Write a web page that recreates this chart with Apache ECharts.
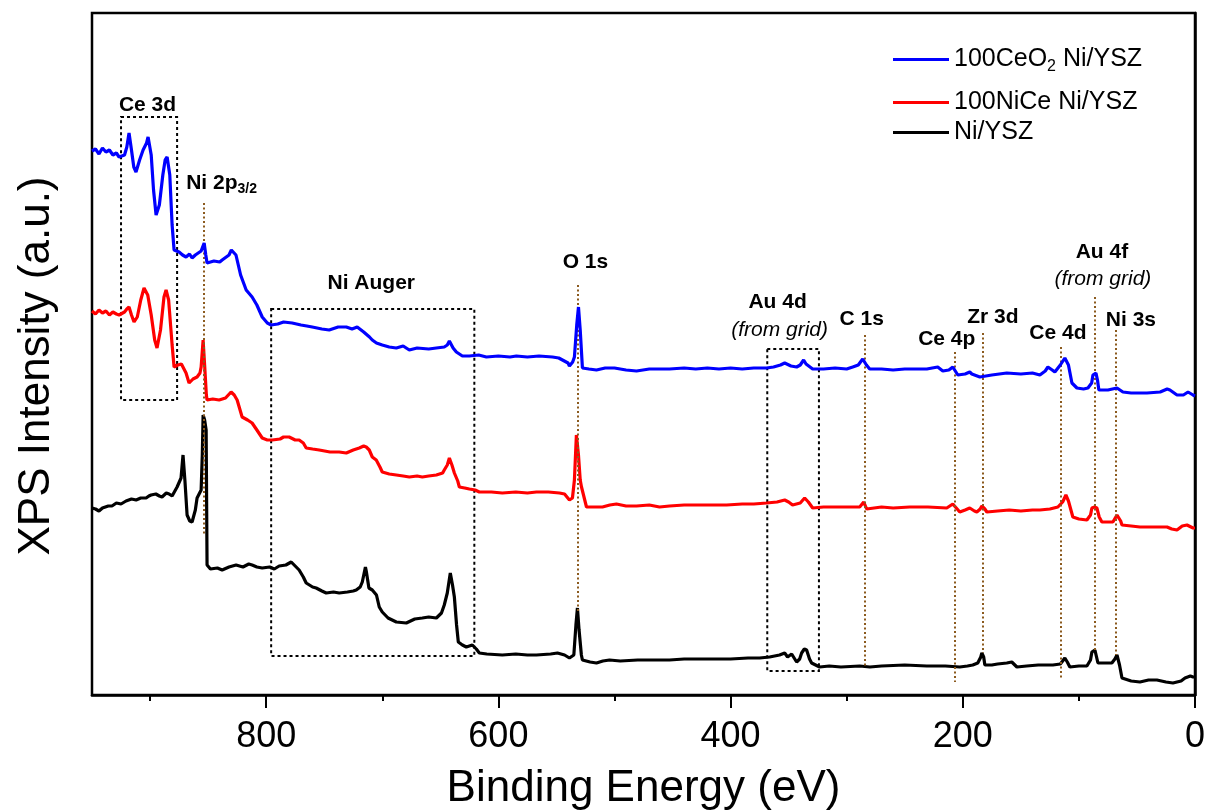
<!DOCTYPE html>
<html>
<head>
<meta charset="utf-8">
<script src="https://cdn.jsdelivr.net/npm/echarts@6/dist/echarts.min.js"></script>
<style>
html,body{margin:0;padding:0;background:#fff;}
#chart{width:1207px;height:811px;}
</style>
</head>
<body>
<div id="chart"></div>
<script>
// ---------- DATA (binding energy in eV, intensity in arbitrary units) ----------
const seriesNames = ['100CeO2 Ni/YSZ', '100NiCe Ni/YSZ', 'Ni/YSZ'];
const xMajorTicks = [0, 200, 400, 600, 800];
const xMinorTicks = [100, 300, 500, 700, 900];

const blueData = [[950,544],[947,546],[944,541],[941,547],[938,543],[935,545],[932,540],[929,542],[926.7,538],[922,540],[920,548],[918.1,562],[916,545],[914,528],[912.1,523],[909,535],[906,545],[903,552],[901.7,558],[899,540],[897,505],[894.8,480],[892,490],[889,520],[887,535],[885.3,538],[883,520],[881,470],[879.3,445],[875,443],[872,440],[869,438],[866,441],[863.8,437],[861,440],[859.5,442],[856,444],[853.4,452],[852,440],[850.9,432],[845,434],[840,433],[837.9,435],[832,440],[830,445],[828.4,447],[826,440],[822,420],[817.2,405],[812.1,398],[808,390],[803.4,378],[799,372],[795.7,370],[790,371],[785,373],[777.6,372],[770,370],[765,369],[760.3,368],[752,366],[745.7,365],[738,368],[731,368],[726,366],[721.6,368],[716,363],[711,358],[708.6,355],[705,352],[700,350],[694,348],[687.9,347],[682,349],[676.7,345],[670,347],[660,346],[653.4,347],[646.6,348],[644,350],[642.2,354],[639,347],[636.2,343],[631,339],[625,339],[617,340],[610.3,338],[600,339],[590,338],[584.5,339],[575,338],[565,339],[553.4,338],[548,337],[544.8,335],[540,332],[538.8,329],[536,333],[534.5,338],[532.5,370],[531,388],[529.5,365],[527.6,327],[522,326],[515.5,325],[508,327],[500,327],[490,325],[481,324],[470,326],[461.2,326],[452.6,326],[440,327],[430,326],[420,327],[410,326],[400,327],[390,326],[380,327],[369,327],[363,328],[357,330],[353.4,332],[348,329],[343.1,328],[340,330],[337.1,335],[335,331],[329.3,326],[320,326],[310,327],[300,326],[294.8,328],[290,330],[286.2,336],[283,330],[280.2,326],[270,326],[260,325],[250,326],[240,326],[231,326],[221.6,328],[217.2,324],[212,325],[208.6,328],[204.3,320],[198,321],[194,323],[192.2,321],[185.3,318],[175,320],[162.1,322],[150,321],[140,322],[133.6,320],[129,324],[126.7,328],[123,325],[120.7,323],[116,330],[112.1,337],[109,330],[106,312],[101.7,307],[96,306],[92.2,307],[89,312],[87.9,320],[85.3,322],[84,315],[82.8,305],[75,305],[67.2,307],[62.1,303],[55,302],[41.4,302],[30,303],[24,306],[21.6,305],[15.5,300],[10,300],[6,303],[1.7,300],[0,299]];

const redData = [[950,384],[947,381],[944,385],[941,382],[938,384],[935,380],[932,383],[929,381],[926.7,380],[922,383],[920,386],[918.1,388],[916,380],[913.8,373],[911,378],[908,395],[905.2,407],[902,400],[899,380],[896,355],[894,347],[891,365],[888,398],[886.2,405],[884,395],[881,350],[879.3,328],[876,330],[873,331],[871.6,332],[869,322],[866.4,312],[863,316],[859.5,318],[857,322],[856,328],[854.3,355],[853,330],[851.5,300],[850.9,295],[846,296],[840.5,295],[835,297],[830.2,303],[827.5,300],[825,295],[820.7,278],[816,275],[812.1,272],[808,265],[803.4,257],[799,255],[794.8,255],[788,256],[785,258],[780.2,258],[775,255],[771.6,255],[768,252],[765.5,247],[760,246],[754.3,245],[745,243],[737.1,243],[731,242],[725,245],[719.8,247],[716,249],[713.8,248],[711.2,245],[708.6,238],[705.2,235],[702,228],[700,223],[694,221],[687.9,220],[682,219],[676.7,218],[670,219],[665.5,218],[660,219],[653.4,220],[648,222],[646.6,225],[644,230],[642.2,237],[640,230],[637.9,222],[635,214],[633.6,208],[629,207],[625,206],[620,205],[616.4,203],[606,203],[596.6,202],[585,203],[575,202],[567.2,203],[557,203],[547.4,202],[543,201],[538.8,195],[536.2,197],[534.5,215],[532.8,260],[531,240],[529.5,215],[528.4,208],[524.1,188],[517,188],[510.3,188],[504,190],[498.3,191],[490,189],[481,189],[470,190],[461.2,188],[452.6,189],[440,190],[425,190],[403.4,190],[390,191],[380,191],[369,192],[360,193],[353.4,195],[350,193],[346.6,190],[340,192],[336.2,197],[333,193],[329.3,187],[320,188],[300,188],[288.8,188],[285.3,193],[282.8,186],[270,188],[260,187],[245.7,188],[230,188],[213.8,187],[208.6,191],[202.6,183],[198,185],[194,187],[190,184],[187.9,183],[185,186],[183.6,189],[181,186],[179.3,183],[170,184],[160,185],[150,184],[140,185],[133.6,185],[125,186],[118.1,188],[114,193],[111.2,200],[109,194],[105.2,178],[100,176],[93.1,175],[90,180],[88.8,187],[86.5,188],[84.5,187],[82.5,178],[80.2,173],[75,173],[70.7,173],[67.2,180],[64,174],[62.9,170],[55,169],[47.4,168],[35,168],[24.1,168],[20,166],[15.5,165],[11,169],[6.9,170],[1.7,167],[0,167]];

const blackData = [[950,187],[947,186],[944,184],[941,187],[939.7,185],[936,189],[932.8,189],[929,192],[925,191],[920.7,194],[916,196],[912,195],[908,197],[903.4,197],[901,199],[899.1,200],[895,201],[892,199],[889.7,198],[886,202],[883.6,201],[881,199],[879.3,198],[876.7,208],[873.3,217],[871.6,240],[870,215],[868.1,180],[865.8,174],[863.8,173],[861,185],[859.5,197],[856,205],[855,240],[854.3,280],[853,275],[851.7,265],[850.9,130],[848,126],[846.6,125],[842,127],[837.9,125],[832,128],[825.9,130],[820,128],[815,131],[812.1,130],[808,128],[803.4,127],[797,128],[793,126],[788.8,129],[783,130],[778.4,133],[775,129],[771.6,125],[768,118],[765.5,112],[760,108],[756.9,107],[752,104],[748.3,102],[742,103],[737.1,102],[730,103],[725,104],[722.4,105],[719,108],[717.2,113],[714.5,128],[713.8,124],[711.5,107],[708.6,105],[705,100],[702.6,88],[700,83],[695,77],[687.9,73],[679.3,72],[672,76],[665.5,77],[660,78],[653.4,77],[649,82],[646.6,90],[644,102],[641.4,122],[639.5,110],[637.9,98],[636,70],[634.5,53],[631,50],[627.6,48],[622.4,50],[619,46],[616.4,42],[610,41],[596.6,40],[585,41],[575,40],[567.2,40],[555,41],[549.1,42],[543,40],[538.8,37],[535,40],[533.2,70],[531.9,87],[530.5,65],[528.5,40],[527.6,35],[521,33],[515.5,32],[510,34],[504.3,35],[495,34],[480,35],[465,35],[452.6,35],[440,36],[420,36],[400,36],[385,37],[375,37],[366.4,38],[357.8,40],[353.4,42],[350.9,38],[347.4,41],[343.1,33],[340.5,36],[338.8,42],[336.5,46],[334.5,45],[332,36],[330.2,32],[323.3,28],[315,29],[305,28],[288.8,29],[280,28],[270,29],[250,30],[231,29],[215,29],[202.6,28],[196,29],[191.4,30],[187.1,32],[184.5,38],[183.6,42],[182,38],[181,30],[175,30],[170,31],[162.1,32],[157.8,33],[153.4,28],[145,29],[135,30],[122.4,30],[116,31],[114,34],[112.1,37],[110,33],[107.8,28],[100,29],[93.1,29],[90,35],[88.8,43],[86.2,45],[84.5,43],[83.6,32],[78,32],[71.6,32],[69,36],[67.2,40],[65,30],[62.9,17],[55,14],[47.4,13],[40,15],[32.8,15],[25,13],[19,12],[12,14],[8.6,17],[4,19],[1.7,18],[0,18]];

// peak marker lines: [binding energy, upper intensity, lower intensity]
const peakLines = [[853.4,492,160],[532,410,82],[284.5,360,28],[207.2,343,13],[183.0,362,42],[115.8,348,17],[86.2,398,45],[68.1,365,40]];
// dotted boxes: [BE from, BE to, upper intensity, lower intensity]
const regionBoxes = [[925,876.7,578,295],[795.7,620.7,386,39],[368.4,323.9,346,24]];
// annotation texts: [BE, intensity, text, kind]
const peakLabels = [
  [902.2,590,'Ce 3d','b'],
  [838.4,512,'Ni 2p|3/2','sub'],
  [709.5,412,'Ni Auger','b'],
  [525,433,'O 1s','b'],
  [359.5,393,'Au 4d','b'],
  [357.8,365,'(from grid)','i'],
  [287.1,376,'C 1s','b'],
  [213.8,356,'Ce 4p','b'],
  [174.1,378,'Zr 3d','b'],
  [118.1,362,'Ce 4d','b'],
  [80.2,443,'Au 4f','b'],
  [79.3,416,'(from grid)','i'],
  [55.2,375,'Ni 3s','b']
];

// ---------- CHART ----------
const FONT = '"Liberation Sans", Arial, Helvetica, sans-serif';
const chart = echarts.init(document.getElementById('chart'), null, {renderer: 'canvas'});

const labelItems = peakLabels.map(function (p) {
  let fmt;
  if (p[3] === 'sub') {
    const parts = p[2].split('|');
    fmt = '{b|' + parts[0] + '}{s|' + parts[1] + '}';
  } else if (p[3] === 'i') {
    fmt = '{i|' + p[2] + '}';
  } else {
    fmt = '{b|' + p[2] + '}';
  }
  return { value: [p[0], p[1]], label: { formatter: fmt } };
});

const lineStyleBase = { width: 3.2 };

const option = {
  animation: false,
  backgroundColor: '#fff',
  textStyle: { fontFamily: FONT },
  grid: {
    left: 92, right: 12, top: 13, bottom: 116,
    outerBoundsMode: 'none', containLabel: false,
    show: true, borderColor: '#000', borderWidth: 2.5, backgroundColor: 'transparent'
  },
  legend: [
    {
      data: [seriesNames[0]], left: 888, top: 42, icon: 'rect', itemWidth: 56, itemHeight: 3,
      itemGap: 0, selectedMode: false,
      formatter: function () { return '{a|100CeO}{s|2}{a| Ni/YSZ}'; },
      textStyle: { fontFamily: FONT, color: '#000', fontSize: 25,
        rich: { a: { fontFamily: FONT, fontSize: 25, color: '#000', lineHeight: 30 },
                s: { fontFamily: FONT, fontSize: 16, color: '#000', verticalAlign: 'bottom', lineHeight: 16 } } }
    },
    {
      data: [seriesNames[1]], left: 888, top: 85, icon: 'rect', itemWidth: 56, itemHeight: 3,
      selectedMode: false,
      textStyle: { fontFamily: FONT, color: '#000', fontSize: 25 }
    },
    {
      data: [seriesNames[2]], left: 888, top: 115, icon: 'rect', itemWidth: 56, itemHeight: 3,
      selectedMode: false,
      textStyle: { fontFamily: FONT, color: '#000', fontSize: 25 }
    }
  ],
  xAxis: [
    {
      type: 'value', inverse: true, min: 0, max: 950,
      name: 'Binding Energy (eV)', nameLocation: 'middle', nameGap: 72,
      nameTextStyle: { fontFamily: FONT, fontSize: 44, color: '#000' },
      axisLine: { show: true, onZero: false, lineStyle: { color: '#000', width: 2.5 } },
      axisTick: { show: true, inside: false, length: 13, customValues: xMajorTicks, lineStyle: { color: '#000', width: 2 } },
      axisLabel: { show: true, customValues: xMajorTicks, fontFamily: FONT, fontSize: 36, color: '#000', margin: 24 },
      splitLine: { show: false }
    },
    {
      type: 'value', inverse: true, min: 0, max: 950, position: 'bottom',
      axisLine: { show: false, onZero: false },
      axisTick: { show: true, inside: false, length: 6, customValues: xMinorTicks, lineStyle: { color: '#000', width: 2 } },
      axisLabel: { show: false },
      splitLine: { show: false }
    }
  ],
  yAxis: {
    type: 'value', min: 0, max: 682,
    name: 'XPS Intensity (a.u.)', nameLocation: 'middle', nameGap: 33,
    nameTextStyle: { fontFamily: FONT, fontSize: 44, color: '#000', padding: [0, 24, 0, 0] },
    axisLine: { show: true, lineStyle: { color: '#000', width: 2.5 } },
    axisTick: { show: false },
    axisLabel: { show: false },
    splitLine: { show: false }
  },
  series: [
    {
      name: seriesNames[2], type: 'line', data: blackData, showSymbol: false, symbol: 'none',
      color: '#000', lineStyle: Object.assign({ color: '#000' }, lineStyleBase), silent: true, z: 3,
      markLine: {
        silent: true, symbol: ['none', 'none'], label: { show: false },
        lineStyle: { color: '#8B5A1E', type: [2, 2.5], width: 2, opacity: 1 },
        data: peakLines.map(function (l) { return [{ coord: [l[0], l[1]] }, { coord: [l[0], l[2]] }]; })
      },
      markArea: {
        silent: true, label: { show: false },
        itemStyle: { color: 'rgba(0,0,0,0)', borderColor: '#000', borderWidth: 2, borderType: [3, 3], opacity: 1 },
        data: regionBoxes.map(function (b) { return [{ coord: [b[0], b[2]] }, { coord: [b[1], b[3]] }]; })
      }
    },
    {
      name: seriesNames[1], type: 'line', data: redData, showSymbol: false, symbol: 'none',
      color: '#FF0000', lineStyle: Object.assign({ color: '#FF0000' }, lineStyleBase), silent: true, z: 4
    },
    {
      name: seriesNames[0], type: 'line', data: blueData, showSymbol: false, symbol: 'none',
      color: '#0000FF', lineStyle: Object.assign({ color: '#0000FF' }, lineStyleBase), silent: true, z: 5
    },
    {
      name: 'labels', type: 'scatter', data: labelItems, symbol: 'circle', symbolSize: 1,
      itemStyle: { color: '#fff', opacity: 1 }, silent: true, z: 10,
      label: {
        show: true, position: 'inside', color: '#000', opacity: 1, textBorderWidth: 0,
        rich: {
          b: { fontFamily: FONT, fontSize: 21, fontWeight: 'bold', color: '#000', lineHeight: 26 },
          s: { fontFamily: FONT, fontSize: 14, fontWeight: 'bold', color: '#000', lineHeight: 12, verticalAlign: 'bottom' },
          i: { fontFamily: FONT, fontSize: 21, fontStyle: 'italic', color: '#000', lineHeight: 26 }
        }
      }
    }
  ]
};
chart.setOption(option);
</script>
</body>
</html>
